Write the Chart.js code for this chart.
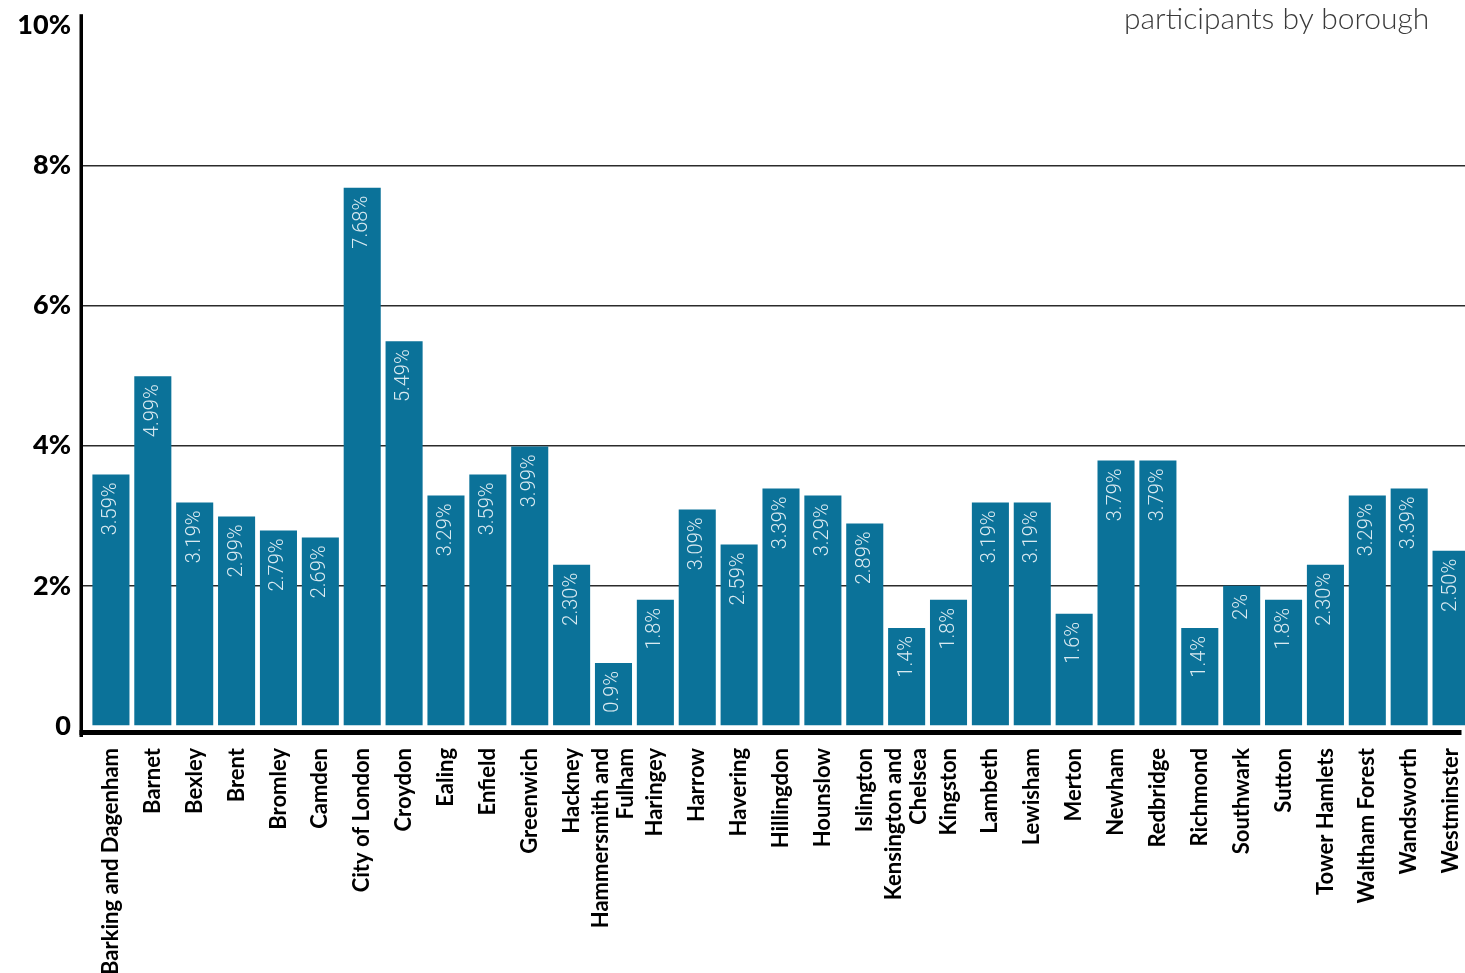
<!DOCTYPE html>
<html>
<head>
<meta charset="utf-8">
<script src="https://cdn.jsdelivr.net/npm/chart.js@4.4.1/dist/chart.umd.min.js"></script>
<style>
  html, body { margin: 0; padding: 0; background: #fff; overflow: hidden; }
  #wrap { position: relative; width: 1465px; height: 973px; overflow: hidden; }
  #c { position: absolute; left: 0; top: 0; }
  #subtitle {
    position: absolute; left: 1124px; top: 2px; white-space: nowrap;
    font-family: Lato, sans-serif; font-weight: 300; font-size: 30px;
    color: #3a3a3a; line-height: 1;
  }
</style>
</head>
<body>
<div id="wrap">
  <canvas id="c" width="1472" height="973"></canvas>
  <div id="subtitle">participants by borough</div>
</div>
<script>
// London boroughs (two-line names kept as arrays)
const boroughs = [
  'Barking and Dagenham', 'Barnet', 'Bexley', 'Brent', 'Bromley', 'Camden',
  'City of London', 'Croydon', 'Ealing', 'Enfield', 'Greenwich', 'Hackney',
  ['Hammersmith and', 'Fulham'], 'Haringey', 'Harrow', 'Havering', 'Hillingdon',
  'Hounslow', 'Islington', ['Kensington and', 'Chelsea'], 'Kingston', 'Lambeth',
  'Lewisham', 'Merton', 'Newham', 'Redbridge', 'Richmond', 'Southwark', 'Sutton',
  'Tower Hamlets', 'Waltham Forest', 'Wandsworth', 'Westminster'
];

// Share of participants per borough, as printed on each bar (%)
const shareText = [
  '3.59', '4.99', '3.19', '2.99', '2.79', '2.69',
  '7.68', '5.49', '3.29', '3.59', '3.99', '2.30',
  '0.9', '1.8', '3.09', '2.59', '3.39',
  '3.29', '2.89', '1.4', '1.8', '3.19',
  '3.19', '1.6', '3.79', '3.79', '1.4', '2', '1.8',
  '2.30', '3.29', '3.39', '2.50'
];
const shares = shareText.map(Number);

// Value-axis ticks (%)
const yTicks = [0, 2, 4, 6, 8, 10];

const BAR_COLOR = '#0b7299';

// Thick black axis lines: vertical one sits a little left of the plot area
const axisLines = {
  id: 'axisLines',
  afterDatasetsDraw(chart) {
    const { ctx, chartArea: a } = chart;
    ctx.save();
    ctx.fillStyle = '#000';
    ctx.fillRect(a.left - 10.5, a.top - 11, 3.5, a.bottom - a.top + 22);
    ctx.fillRect(a.left - 10.5, a.bottom + 4, a.right - a.left, 5);
    ctx.restore();
  }
};

// Rotated value labels inside the top of each bar
const barValueLabels = {
  id: 'barValueLabels',
  afterDatasetsDraw(chart) {
    const { ctx } = chart;
    const meta = chart.getDatasetMeta(0);
    ctx.save();
    ctx.font = '300 20px Roboto, sans-serif';
    ctx.fillStyle = 'rgba(235,244,248,0.92)';
    ctx.textAlign = 'right';
    ctx.textBaseline = 'middle';
    meta.data.forEach((bar, i) => {
      ctx.save();
      ctx.translate(bar.x, bar.y + 8);
      ctx.rotate(-Math.PI / 2);
      ctx.fillText(shareText[i] + '%', 0, 0);
      ctx.restore();
    });
    ctx.restore();
  }
};

// Vertical category names under the axis, multi-line names centred on the tick
const categoryNames = {
  id: 'categoryNames',
  afterDraw(chart) {
    const { ctx, chartArea: a } = chart;
    const xs = chart.scales.x;
    const lineH = 25;
    ctx.save();
    ctx.font = 'bold 22px Lato, sans-serif';
    ctx.fillStyle = '#000';
    ctx.textAlign = 'right';
    ctx.textBaseline = 'middle';
    boroughs.forEach((name, i) => {
      const lines = Array.isArray(name) ? name : [name];
      const x0 = xs.getPixelForValue(i);
      lines.forEach((ln, j) => {
        const x = x0 + (j - (lines.length - 1) / 2) * lineH;
        ctx.save();
        ctx.translate(x, a.bottom + 22);
        ctx.rotate(-Math.PI / 2);
        ctx.fillText(ln, 0, 0);
        ctx.restore();
      });
    });
    ctx.restore();
  }
};

new Chart(document.getElementById('c'), {
  type: 'bar',
  data: {
    labels: boroughs,
    datasets: [{
      data: shares,
      backgroundColor: BAR_COLOR,
      borderWidth: 0,
      categoryPercentage: 1,
      barPercentage: 0.885
    }]
  },
  options: {
    responsive: false,
    animation: false,
    devicePixelRatio: 1,
    layout: { padding: { top: 22, right: 0, left: 0, bottom: 0 } },
    plugins: {
      legend: { display: false },
      tooltip: { enabled: false },
      title: { display: false }
    },
    scales: {
      x: {
        offset: true,
        grid: { display: false, drawTicks: false },
        border: { display: false },
        ticks: { display: false },
        afterFit(scale) { scale.height = 247; }
      },
      y: {
        min: 0,
        max: 10,
        afterBuildTicks(scale) { scale.ticks = yTicks.map(v => ({ value: v })); },
        afterFit(scale) { scale.width = 90; },
        border: { display: false },
        grid: {
          drawTicks: true,
          tickLength: 10,
          lineWidth: 1.5,
          color: ctx => (ctx.tick && (ctx.tick.value === 0 || ctx.tick.value === 10)) ? 'rgba(0,0,0,0)' : '#2b2b2b'
        },
        ticks: {
          padding: 9,
          color: '#000',
          font: { family: 'Lato, sans-serif', weight: 900, size: 27 },
          callback: v => (v === 0 ? '0' : v + '%')
        }
      }
    }
  },
  plugins: [axisLines, barValueLabels, categoryNames]
});
</script>
</body>
</html>
